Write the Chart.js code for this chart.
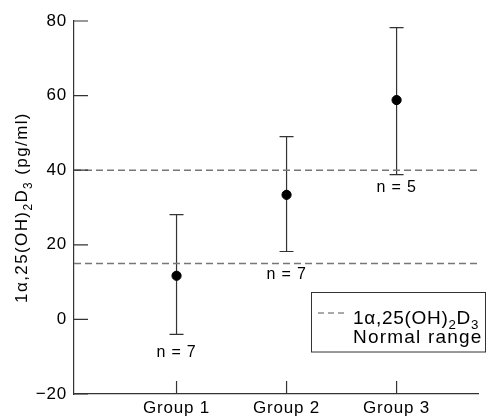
<!DOCTYPE html>
<html>
<head>
<meta charset="utf-8">
<script src="https://cdn.jsdelivr.net/npm/chart.js@4/dist/chart.umd.min.js"></script>
<style>
    html, body { margin: 0; padding: 0; background: #fff; }
    canvas { display: block; }
</style>
</head>
<body>
<canvas id="chart" width="487" height="419"></canvas>
<script>
"use strict";

// Data
const groups = ['Group 1', 'Group 2', 'Group 3'];
const means = [11.7, 33.4, 58.8];
const upperBars = [28.1, 49, 78.2];
const lowerBars = [-4, 18.2, 38.8];
const nValues = [7, 7, 5];
const nLabelAt = [-8.9, 11.9, 35.4];
const normalRange = [15, 40];
const yTicks = [-20, 0, 20, 40, 60, 80];

// Label text (with sub-scripts)
const yTitleParts = [['1\u03b1,25(OH)', 0], ['2', 1], ['D', 0], ['3', 1], [' (pg/ml)', 0]];
const legendParts = [['1\u03b1,25(OH)', 0], ['2', 1], ['D', 0], ['3', 1]];
const legendLine2 = 'Normal range';

const xMin = 0.068;
const xMax = 3.74;
const FONT = "'Liberation Sans', Arial, sans-serif";
const INK = '#000';
const AXIS = '#333';

// draw text made of normal and subscript pieces
function drawParts(ctx, parts, x, y, size, align) {
    const widths = parts.map(([t, sub]) => {
        ctx.font = (sub ? size * 0.7 : size) + 'px ' + FONT;
        return ctx.measureText(t).width;
    });
    const total = widths.reduce((a, b) => a + b, 0);
    let cx = x;
    if (align === 'center') cx = x - total / 2;
    if (align === 'right') cx = x - total;
    parts.forEach(([t, sub], i) => {
        ctx.font = (sub ? size * 0.7 : size) + 'px ' + FONT;
        ctx.fillText(t, cx, sub ? y + size * 0.28 : y);
        cx += widths[i];
    });
}

// letter spacing for all canvas text
const spacing = {
    id: 'spacing',
    beforeLayout(chart) { chart.ctx.letterSpacing = '0.8px'; },
    beforeDraw(chart) { chart.ctx.letterSpacing = '0.8px'; }
};

// error bars drawn through the scales
const errorBars = {
    id: 'errorBars',
    beforeDatasetsDraw(chart) {
        const { ctx, scales: { x, y } } = chart;
        ctx.save();
        ctx.strokeStyle = AXIS;
        ctx.lineWidth = 1.2;
        groups.forEach((g, i) => {
            const px = x.getPixelForValue(i + 1);
            const top = y.getPixelForValue(upperBars[i]);
            const bot = y.getPixelForValue(lowerBars[i]);
            ctx.beginPath();
            ctx.moveTo(px, top); ctx.lineTo(px, bot);
            ctx.moveTo(px - 7, top); ctx.lineTo(px + 7, top);
            ctx.moveTo(px - 7, bot); ctx.lineTo(px + 7, bot);
            ctx.stroke();
        });
        ctx.restore();
    }
};

// inward ticks, n labels, axis title, legend box
const extras = {
    id: 'extras',
    afterDraw(chart) {
        const { ctx, chartArea, scales: { x, y } } = chart;
        ctx.save();
        ctx.letterSpacing = '0.8px';

        // ticks pointing into the plot
        ctx.strokeStyle = AXIS;
        ctx.lineWidth = 1.2;
        ctx.beginPath();
        yTicks.forEach(v => {
            const py = y.getPixelForValue(v);
            ctx.moveTo(chartArea.left, py);
            ctx.lineTo(chartArea.left + 14, py);
        });
        groups.forEach((g, i) => {
            const px = x.getPixelForValue(i + 1);
            ctx.moveTo(px, chartArea.bottom);
            ctx.lineTo(px, chartArea.bottom - 13);
        });
        ctx.stroke();

        // n = ... labels
        ctx.fillStyle = INK;
        ctx.textAlign = 'center';
        ctx.textBaseline = 'middle';
        ctx.font = '16px ' + FONT;
        groups.forEach((g, i) => {
            ctx.fillText('n = ' + nValues[i], x.getPixelForValue(i + 1), y.getPixelForValue(nLabelAt[i]));
        });

        // y axis title
        ctx.save();
        ctx.translate(27, (chartArea.top + chartArea.bottom) / 2);
        ctx.rotate(-Math.PI / 2);
        ctx.textAlign = 'left';
        ctx.textBaseline = 'alphabetic';
        ctx.letterSpacing = '1.4px';
        drawParts(ctx, yTitleParts, 0, 0, 17, 'center');
        ctx.restore();

        // legend box
        ctx.fillStyle = '#fff';
        ctx.fillRect(311.5, 292.5, 174, 59.5);
        ctx.strokeStyle = AXIS;
        ctx.lineWidth = 1;
        ctx.strokeRect(311.5, 292.5, 174, 59.5);
        ctx.strokeStyle = '#555';
        ctx.setLineDash([6, 4]);
        ctx.beginPath();
        ctx.moveTo(318, 313);
        ctx.lineTo(348, 313);
        ctx.stroke();
        ctx.setLineDash([]);
        ctx.fillStyle = INK;
        ctx.textAlign = 'left';
        ctx.textBaseline = 'alphabetic';
        ctx.letterSpacing = '0.7px';
        drawParts(ctx, legendParts, 353, 324, 19, 'left');
        ctx.letterSpacing = '1.2px';
        ctx.font = '19px ' + FONT;
        ctx.fillText(legendLine2, 353, 343);
        ctx.restore();
    }
};

const chart = new Chart(document.getElementById('chart'), {
    type: 'scatter',
    data: {
        datasets: [
            {
                label: 'Mean',
                data: groups.map((g, i) => ({ x: i + 1, y: means[i] })),
                backgroundColor: '#000',
                borderColor: '#000',
                pointRadius: 4.6,
                pointHoverRadius: 4.6
            },
            {
                label: 'Normal range (low)',
                type: 'line',
                data: [{ x: xMin, y: normalRange[0] }, { x: xMax, y: normalRange[0] }],
                borderColor: '#777',
                borderWidth: 1.4,
                borderDash: [7, 4],
                pointRadius: 0
            },
            {
                label: 'Normal range (high)',
                type: 'line',
                data: [{ x: xMin, y: normalRange[1] }, { x: xMax, y: normalRange[1] }],
                borderColor: '#777',
                borderWidth: 1.4,
                borderDash: [7, 4],
                pointRadius: 0
            }
        ]
    },
    options: {
        responsive: false,
        animation: false,
        devicePixelRatio: 1,
        layout: { padding: { left: 0, right: 9, top: 21, bottom: 0 } },
        plugins: {
            legend: { display: false },
            tooltip: { enabled: false }
        },
        scales: {
            x: {
                type: 'linear',
                min: xMin,
                max: xMax,
                grid: { display: false, drawTicks: false },
                border: { display: true, color: AXIS, width: 1.2 },
                ticks: {
                    color: INK,
                    padding: 4,
                    font: { family: FONT, size: 17 },
                    callback: v => groups[v - 1] || ''
                },
                afterBuildTicks: s => { s.ticks = groups.map((g, i) => ({ value: i + 1 })); },
                afterFit: s => { s.height = 25; }
            },
            y: {
                min: -20,
                max: 80,
                grid: { display: false, drawTicks: false },
                border: { display: true, color: AXIS, width: 1.2 },
                ticks: {
                    color: INK,
                    padding: 7,
                    font: { family: FONT, size: 17 },
                    callback: v => v < 0 ? '\u2212' + (-v) : String(v)
                },
                afterBuildTicks: s => { s.ticks = yTicks.map(v => ({ value: v })); },
                afterFit: s => { s.width = 74; }
            }
        }
    },
    plugins: [spacing, errorBars, extras]
});
</script>
</body>
</html>
